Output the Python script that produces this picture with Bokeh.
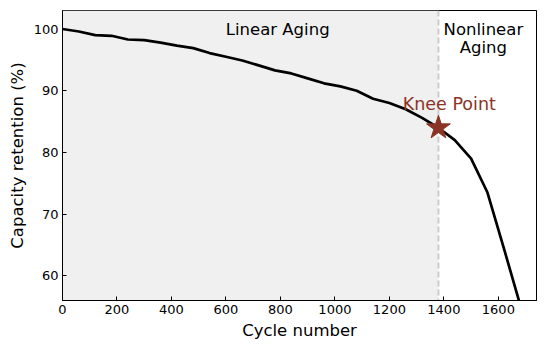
from bokeh.plotting import figure
from bokeh.models import BoxAnnotation, Span, FixedTicker, Range1d
from bokeh.core.properties import value
from bokeh.embed import file_html
from bokeh.resources import INLINE

# ---- data ----
cycles = [0, 60, 120, 180, 240, 300, 360, 420, 480, 540, 600, 660, 720, 780,
          840, 900, 960, 1020, 1080, 1140, 1200, 1260, 1320, 1380, 1440, 1500,
          1560, 1620, 1680]
capacity = [100.0, 99.6, 99.0, 98.9, 98.3, 98.2, 97.8, 97.3, 96.9, 96.1, 95.5,
            94.9, 94.1, 93.3, 92.8, 92.0, 91.2, 90.7, 90.0, 88.7, 88.0, 87.0,
            85.6, 84.0, 82.0, 79.0, 73.5, 64.5, 55.3]
knee_cycle = [1380]
knee_capacity = [84.0]
x_ticks = [0, 200, 400, 600, 800, 1000, 1200, 1400, 1600]
y_ticks = [60, 70, 80, 90, 100]
region_labels = ["Linear Aging", "Nonlinear", "Aging"]
knee_label = "Knee Point"

FONT = "DejaVu Sans"
KNEE_COLOR = "#8b3426"

p = figure(frame_width=474, frame_height=290,
           min_border_left=62, min_border_top=10, min_border_right=1,
           min_border_bottom=40,
           x_range=Range1d(0, 1740), y_range=Range1d(56, 103),
           output_backend="svg", toolbar_location=None)

p.background_fill_color = "white"
p.border_fill_color = "white"
p.outline_line_color = "black"
p.outline_line_width = 1
p.xgrid.visible = False
p.ygrid.visible = False

# shaded linear-aging region
p.add_layout(BoxAnnotation(left=0, right=knee_cycle[0], fill_color="#f0f0f0",
                           fill_alpha=1.0, line_alpha=0, level="underlay"))
# knee divider
p.add_layout(Span(location=knee_cycle[0], dimension="height",
                  line_color="#cccccc", line_width=2, line_dash="6 3",
                  level="underlay"))

p.line(cycles, capacity, line_color="black", line_width=2.7)
p.scatter(knee_cycle, knee_capacity, marker="star", size=25, line_width=1,
          fill_color=KNEE_COLOR, line_color=KNEE_COLOR)

p.text(x=[790], y=[99.9], text=[region_labels[0]], text_font=value(FONT),
       text_font_size="16.5px", text_align="center", text_baseline="alphabetic",
       text_color="black")
p.text(x=[1545, 1545], y=[99.9, 96.95], text=region_labels[1:],
       text_font=value(FONT), text_font_size="16.5px", text_align="center",
       text_baseline="alphabetic", text_color="black")
p.text(x=[1420], y=[87.9], text=[knee_label], text_font=value(FONT),
       text_font_size="17.5px", text_align="center", text_baseline="alphabetic",
       text_color=KNEE_COLOR)

for ax in (p.xaxis[0], p.yaxis[0]):
    ax.major_tick_in = 4
    ax.major_tick_out = 0
    ax.minor_tick_in = 0
    ax.minor_tick_out = 0
    ax.axis_line_color = "black"
    ax.major_tick_line_color = "black"
    ax.major_label_text_font = FONT
    ax.major_label_text_font_size = "13px"
    ax.major_label_text_color = "black"
    ax.axis_label_text_font = FONT
    ax.axis_label_text_font_size = "16.5px"
    ax.axis_label_text_font_style = "normal"
    ax.axis_label_text_color = "black"
    ax.major_label_standoff = 4
    ax.axis_label_standoff = 4

p.xaxis[0].ticker = FixedTicker(ticks=x_ticks)
p.yaxis[0].ticker = FixedTicker(ticks=y_ticks)
p.xaxis[0].axis_label = "Cycle number"
p.yaxis[0].axis_label = "Capacity retention (%)"

open("out.html", "w").write(file_html(p, INLINE))
